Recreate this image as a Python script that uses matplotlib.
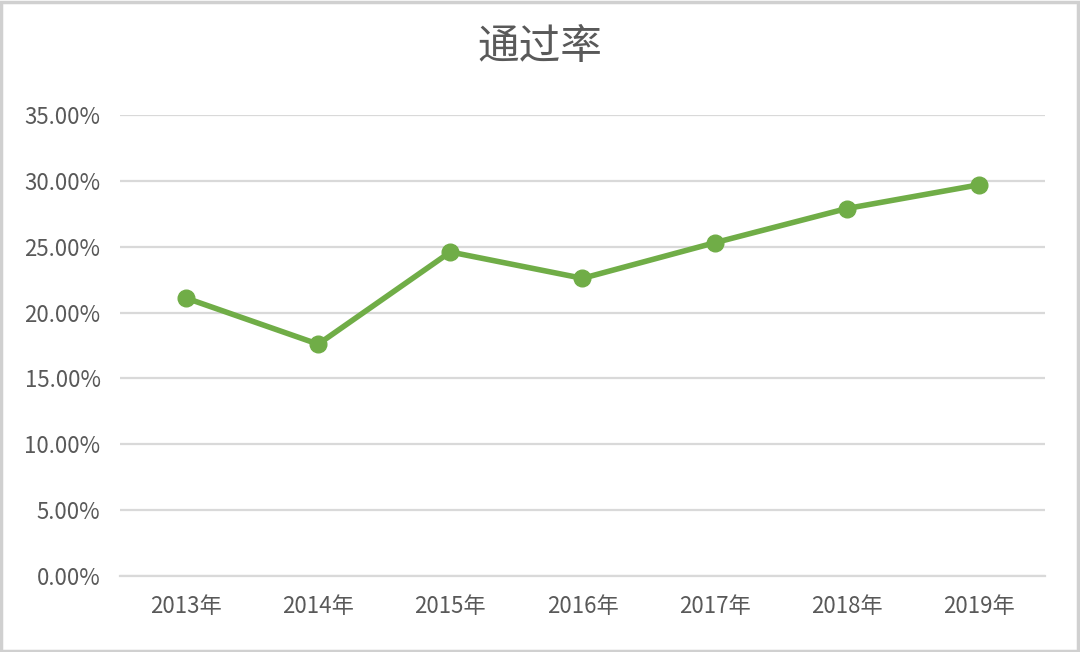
import matplotlib
matplotlib.use('Agg')
import matplotlib.pyplot as plt
from matplotlib.ticker import FuncFormatter
from matplotlib.patches import Rectangle

plt.rcParams['font.family'] = ['Noto Sans CJK SC', 'DejaVu Sans']

years = ['2013年', '2014年', '2015年', '2016年', '2017年', '2018年', '2019年']
rate = [0.211, 0.176, 0.246, 0.226, 0.253, 0.279, 0.297]
yticks = [0, 0.05, 0.10, 0.15, 0.20, 0.25, 0.30, 0.35]

text_c = '#595959'
grid_c = '#d9d9d9'
green = '#70ad47'

fig = plt.figure(figsize=(10.8, 6.52), dpi=100)
ax = fig.add_axes([0.1111, 0.1166, 0.8565, 0.707])

x = list(range(len(years)))
ax.plot(x, rate, '-o', color=green, lw=4.0, markersize=12, zorder=3)

ax.set_xlim(-0.5, len(years) - 0.5)
ax.set_ylim(0, 0.35)
ax.set_yticks(yticks)
ax.yaxis.set_major_formatter(FuncFormatter(lambda v, p: f'{v*100:.2f}%'))
ax.set_xticks(x)
ax.set_xticklabels(years)
ax.grid(axis='y', color=grid_c, lw=1.6)
ax.set_axisbelow(True)
for s in ['top', 'right', 'left']:
    ax.spines[s].set_visible(False)
ax.spines['bottom'].set_color(grid_c)
ax.spines['bottom'].set_linewidth(1.6)
ax.tick_params(length=0, labelsize=16, colors=text_c)
ax.tick_params(axis='x', pad=14)
ax.tick_params(axis='y', pad=14)

fig.text(0.5, 0.927, '通过率', ha='center', va='center', fontsize=30, color=text_c)

fig.patches.append(Rectangle((0.001, 0.002), 0.997, 0.995, transform=fig.transFigure,
                             fill=False, edgecolor='#d0d0d0', lw=2.5))

fig.savefig('out.png', dpi=100, facecolor='white')
